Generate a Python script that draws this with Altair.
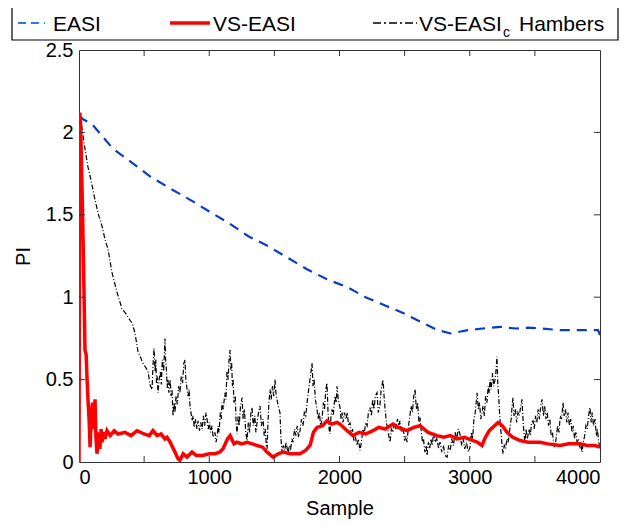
import altair as alt
import pandas as pd

# ---------------- data ----------------
easi_x = [0, 31, 100, 262, 400, 550, 700, 877, 1000, 1150, 1300, 1450, 1600, 1750, 1900, 2062,
          2200, 2350, 2500, 2650, 2754, 2854, 2985, 3100, 3238, 3350, 3446, 3550, 3700, 3850, 3985, 4000]
easi_y = [2.10, 2.08, 2.05, 1.90, 1.82, 1.73, 1.66, 1.58, 1.52, 1.45, 1.37, 1.31, 1.24, 1.17, 1.11, 1.06,
          1.00, 0.95, 0.90, 0.84, 0.80, 0.78, 0.80, 0.81, 0.82, 0.81, 0.815, 0.81, 0.80, 0.80, 0.80, 0.77]

vs_x = [0, 6, 12, 25, 35, 46, 55, 62, 69, 78, 85, 95, 105, 115, 123, 130, 138, 150, 160, 170, 177,
        190, 200, 215, 240, 270, 300, 353, 400, 445, 500, 540, 568, 600, 630, 660, 676, 700, 737, 760,
        775, 800, 830, 868, 900, 950, 1000, 1044, 1080, 1106, 1140, 1160, 1190, 1213, 1250, 1290, 1330,
        1367, 1410, 1444, 1490, 1530, 1566, 1620, 1697, 1740, 1774, 1800, 1827, 1870, 1904, 1940, 1981,
        2004, 2058, 2104, 2150, 2200, 2257, 2300, 2350, 2411, 2450, 2518, 2570, 2618, 2680, 2749, 2800,
        2850, 2902, 2960, 3025, 3060, 3094, 3120, 3150, 3217, 3250, 3286, 3330, 3386, 3450, 3539, 3600,
        3693, 3760, 3846, 3900, 3960, 4000]
vs_y = [0.0, 2.12, 2.05, 1.60, 1.20, 0.68, 0.65, 0.50, 0.38, 0.25, 0.09, 0.30, 0.36, 0.20, 0.38, 0.15,
        0.05, 0.18, 0.08, 0.20, 0.12, 0.18, 0.14, 0.19, 0.16, 0.19, 0.17, 0.18, 0.16, 0.19, 0.17, 0.16,
        0.19, 0.16, 0.17, 0.14, 0.15, 0.12, 0.06, 0.02, 0.01, 0.05, 0.03, 0.06, 0.04, 0.04, 0.05, 0.05,
        0.06, 0.08, 0.14, 0.16, 0.11, 0.12, 0.11, 0.12, 0.11, 0.10, 0.09, 0.06, 0.03, 0.05, 0.06, 0.05,
        0.05, 0.07, 0.10, 0.18, 0.21, 0.22, 0.25, 0.23, 0.24, 0.23, 0.19, 0.16, 0.18, 0.17, 0.19, 0.21,
        0.20, 0.23, 0.21, 0.19, 0.21, 0.22, 0.18, 0.16, 0.15, 0.16, 0.14, 0.15, 0.13, 0.12, 0.10, 0.15,
        0.19, 0.24, 0.22, 0.18, 0.15, 0.13, 0.12, 0.12, 0.11, 0.10, 0.11, 0.11, 0.10, 0.10, 0.09]

# VS-EASI_c Hambers: (sample, PI) pairs
ham_points = [
    (0, 2.10), (15, 2.07), (40, 1.93), (69, 1.79), (100, 1.68), (123, 1.59), (150, 1.50), (177, 1.43),
    (200, 1.35), (223, 1.29), (253, 1.15), (292, 1.03), (330, 0.93), (360, 0.90), (392, 0.86), (410, 0.84),
    (430, 0.78), (453, 0.67), (470, 0.64), (490, 0.60), (507, 0.58), (530, 0.55), (545, 0.47),
    (561, 0.44), (568, 0.58), (576, 0.69), (584, 0.55), (590, 0.62), (595, 0.48), (600, 0.52), (607, 0.42),
    (615, 0.50), (625, 0.55), (632, 0.47), (640, 0.62), (650, 0.55), (660, 0.75), (665, 0.62), (670, 0.58),
    (677, 0.45), (683, 0.50), (690, 0.42), (700, 0.50), (707, 0.40), (714, 0.44), (722, 0.28), (730, 0.36),
    (737, 0.30), (745, 0.40), (755, 0.35), (765, 0.46), (775, 0.42), (785, 0.52), (795, 0.48), (805, 0.60),
    (814, 0.62), (820, 0.50), (830, 0.44), (837, 0.40), (845, 0.44), (852, 0.34), (860, 0.30), (868, 0.25),
    (876, 0.28), (885, 0.21), (895, 0.26), (905, 0.20), (914, 0.25), (925, 0.19), (935, 0.24), (945, 0.20),
    (955, 0.28), (965, 0.22), (975, 0.30), (983, 0.26), (992, 0.20), (1000, 0.24), (1010, 0.18), (1021, 0.22),
    (1030, 0.15), (1044, 0.18), (1052, 0.12), (1060, 0.15), (1068, 0.22), (1075, 0.18), (1085, 0.30),
    (1092, 0.26), (1098, 0.36), (1108, 0.32), (1120, 0.42), (1128, 0.38), (1136, 0.55), (1145, 0.50),
    (1152, 0.62), (1160, 0.68), (1166, 0.56), (1172, 0.60), (1178, 0.46), (1183, 0.50), (1190, 0.36),
    (1200, 0.40), (1206, 0.24), (1213, 0.17), (1222, 0.28), (1230, 0.22), (1240, 0.34), (1252, 0.39),
    (1260, 0.26), (1270, 0.32), (1280, 0.18), (1290, 0.13), (1300, 0.24), (1310, 0.18), (1320, 0.30),
    (1328, 0.33), (1338, 0.22), (1350, 0.28), (1358, 0.18), (1367, 0.24), (1378, 0.30), (1390, 0.34),
    (1400, 0.22), (1413, 0.26), (1422, 0.16), (1430, 0.20), (1438, 0.10), (1444, 0.08), (1450, 0.22),
    (1458, 0.36), (1467, 0.44), (1475, 0.38), (1485, 0.46), (1495, 0.40), (1505, 0.50), (1512, 0.42),
    (1520, 0.38), (1530, 0.34), (1543, 0.30), (1550, 0.15), (1559, 0.05), (1568, 0.10), (1580, 0.07),
    (1590, 0.12), (1605, 0.05), (1615, 0.10), (1625, 0.08), (1635, 0.14), (1643, 0.12), (1655, 0.20),
    (1665, 0.16), (1675, 0.22), (1686, 0.15), (1697, 0.19), (1708, 0.26), (1720, 0.22), (1730, 0.30),
    (1741, 0.28), (1751, 0.36), (1760, 0.42), (1770, 0.48), (1780, 0.54), (1789, 0.60), (1797, 0.46),
    (1805, 0.50), (1815, 0.38), (1827, 0.32), (1836, 0.26), (1845, 0.30), (1856, 0.22), (1866, 0.26),
    (1876, 0.36), (1885, 0.32), (1895, 0.44), (1904, 0.48), (1912, 0.30), (1920, 0.20), (1927, 0.17),
    (1935, 0.28), (1943, 0.32), (1952, 0.28), (1965, 0.40), (1975, 0.36), (1981, 0.46), (1990, 0.38),
    (2004, 0.33), (2012, 0.26), (2020, 0.30), (2027, 0.24), (2038, 0.30), (2050, 0.26), (2060, 0.30),
    (2070, 0.22), (2081, 0.24), (2090, 0.16), (2100, 0.20), (2110, 0.13), (2120, 0.16), (2134, 0.10),
    (2145, 0.14), (2157, 0.07), (2168, 0.12), (2180, 0.20), (2190, 0.16), (2200, 0.24), (2212, 0.22),
    (2222, 0.30), (2234, 0.33), (2245, 0.28), (2255, 0.38), (2265, 0.32), (2275, 0.40), (2288, 0.42),
    (2298, 0.30), (2310, 0.34), (2320, 0.44), (2334, 0.50), (2342, 0.40), (2350, 0.32), (2360, 0.24),
    (2370, 0.20), (2380, 0.15), (2388, 0.12), (2398, 0.20), (2410, 0.18), (2420, 0.24), (2432, 0.20),
    (2445, 0.26), (2455, 0.22), (2464, 0.25), (2475, 0.18), (2490, 0.20), (2500, 0.13), (2510, 0.16),
    (2518, 0.12), (2530, 0.22), (2540, 0.28), (2550, 0.34), (2560, 0.30), (2570, 0.40), (2580, 0.44),
    (2590, 0.32), (2600, 0.36), (2610, 0.24), (2618, 0.27), (2628, 0.18), (2638, 0.12), (2645, 0.14),
    (2655, 0.06), (2665, 0.10), (2672, 0.04), (2682, 0.12), (2692, 0.08), (2702, 0.14), (2712, 0.10),
    (2722, 0.18), (2735, 0.12), (2749, 0.15), (2760, 0.08), (2772, 0.12), (2785, 0.06), (2798, 0.10),
    (2810, 0.04), (2826, 0.03), (2838, 0.10), (2850, 0.07), (2862, 0.14), (2875, 0.10), (2888, 0.18),
    (2900, 0.14), (2912, 0.20), (2925, 0.17), (2938, 0.10), (2950, 0.14), (2962, 0.08), (2975, 0.12),
    (2988, 0.06), (3002, 0.09), (3012, 0.18), (3022, 0.14), (3032, 0.26), (3042, 0.30), (3056, 0.42),
    (3066, 0.32), (3075, 0.36), (3085, 0.26), (3094, 0.30), (3102, 0.34), (3112, 0.28), (3122, 0.40),
    (3132, 0.36), (3142, 0.46), (3150, 0.42), (3156, 0.50), (3165, 0.44), (3175, 0.54), (3185, 0.46),
    (3194, 0.50), (3202, 0.56), (3209, 0.64), (3215, 0.48), (3222, 0.40), (3230, 0.28), (3240, 0.18),
    (3248, 0.10), (3255, 0.05), (3265, 0.10), (3275, 0.08), (3285, 0.14), (3295, 0.12), (3309, 0.21),
    (3318, 0.26), (3325, 0.34), (3332, 0.39), (3340, 0.28), (3350, 0.32), (3360, 0.24), (3370, 0.30),
    (3380, 0.28), (3392, 0.34), (3401, 0.38), (3410, 0.24), (3418, 0.16), (3424, 0.12), (3432, 0.20),
    (3442, 0.14), (3455, 0.20), (3465, 0.16), (3475, 0.24), (3486, 0.25), (3495, 0.20), (3505, 0.28),
    (3515, 0.24), (3525, 0.32), (3535, 0.26), (3545, 0.34), (3555, 0.38), (3565, 0.28), (3575, 0.34),
    (3585, 0.26), (3595, 0.30), (3605, 0.22), (3615, 0.26), (3625, 0.16), (3635, 0.18), (3645, 0.10),
    (3655, 0.09), (3665, 0.16), (3675, 0.22), (3685, 0.18), (3695, 0.28), (3705, 0.26), (3716, 0.36),
    (3725, 0.28), (3735, 0.32), (3745, 0.24), (3755, 0.30), (3765, 0.22), (3775, 0.26), (3785, 0.18),
    (3795, 0.22), (3805, 0.14), (3815, 0.18), (3824, 0.12), (3835, 0.14), (3845, 0.08), (3855, 0.10),
    (3862, 0.06), (3872, 0.12), (3882, 0.16), (3892, 0.22), (3902, 0.20), (3912, 0.28), (3923, 0.33),
    (3932, 0.24), (3940, 0.30), (3950, 0.22), (3962, 0.26), (3972, 0.16), (3980, 0.20), (3990, 0.12),
    (4000, 0.09),
]

x_ticks = [0, 500, 1000, 1500, 2000, 2500, 3000, 3500, 4000]
y_ticks = [0, 0.5, 1, 1.5, 2, 2.5]
legend_labels = ["EASI", "VS-EASI", "VS-EASI", "c", "Hambers"]

W, H = 521, 412
FONT = "Liberation Sans"

easi_df = pd.DataFrame({"x": easi_x, "y": easi_y})
vs_df = pd.DataFrame({"x": vs_x, "y": vs_y})
ham_df = pd.DataFrame(ham_points, columns=["x", "y"])

xs = alt.Scale(domain=[0, 4000], nice=False, zero=False)
ys = alt.Scale(domain=[0, 2.5], nice=False, zero=False)

x_enc = alt.X("x:Q", scale=xs,
              axis=alt.Axis(title="Sample", values=x_ticks,
                            labelExpr="datum.value % 1000 == 0 ? datum.label : ''",
                            format="d", grid=False, ticks=False, domain=False,
                            labelPadding=5, titlePadding=11))
y_enc = alt.Y("y:Q", scale=ys,
              axis=alt.Axis(title="PI", values=y_ticks, format="~g", grid=False, ticks=False,
                            domain=False, labelPadding=6, titlePadding=12))

ham = alt.Chart(ham_df).mark_line(color="#000000", strokeWidth=1.2,
                                  strokeDash=[5, 2, 1, 2], clip=True).encode(x=x_enc, y=y_enc, order="x:Q")
easi = alt.Chart(easi_df).mark_line(color="#0a3cc8", strokeWidth=2.2,
                                    strokeDash=[10, 7], clip=True).encode(x="x:Q", y="y:Q", order="x:Q")
vs = alt.Chart(vs_df).mark_line(color="#ff0000", strokeWidth=3.5, clip=True).encode(
    x="x:Q", y="y:Q", order="x:Q")

# inward ticks
xt_df = pd.DataFrame({"x": x_ticks[1:-1]})
yt_df = pd.DataFrame({"y": y_ticks[1:-1]})
tick_style = dict(color="#333333", strokeWidth=1)
xt_bot = alt.Chart(xt_df).mark_rule(**tick_style).encode(x="x:Q", y=alt.value(H), y2=alt.value(H - 6))
xt_top = alt.Chart(xt_df).mark_rule(**tick_style).encode(x="x:Q", y=alt.value(0), y2=alt.value(6))
yt_l = alt.Chart(yt_df).mark_rule(**tick_style).encode(y="y:Q", x=alt.value(0), x2=alt.value(6))
yt_r = alt.Chart(yt_df).mark_rule(**tick_style).encode(y="y:Q", x=alt.value(W), x2=alt.value(W - 6))

# legend (drawn above the plot)
one = pd.DataFrame({"a": [0]})
lg_box = alt.Chart(one).mark_rect(fill="white", stroke="#000000", strokeWidth=1.2).encode(
    x=alt.value(-67), x2=alt.value(539), y=alt.value(-45), y2=alt.value(-10))
lg_easi = alt.Chart(one).mark_rule(color="#2a78e0", strokeWidth=2, strokeDash=[8, 5]).encode(
    x=alt.value(-61), x2=alt.value(-34), y=alt.value(-27))
lg_vs = alt.Chart(one).mark_rule(color="#ff0000", strokeWidth=3.5).encode(
    x=alt.value(91), x2=alt.value(131), y=alt.value(-27))
lg_ham = alt.Chart(one).mark_rule(color="#000000", strokeWidth=1.3, strokeDash=[8, 3, 2, 3]).encode(
    x=alt.value(294), x2=alt.value(338), y=alt.value(-27))

def lg_text(txt, x, y, size=21):
    return alt.Chart(one).mark_text(text=txt, align="left", baseline="alphabetic", font=FONT,
                                    fontSize=size, color="#000000").encode(x=alt.value(x), y=alt.value(y))

lg_t1 = lg_text(legend_labels[0], -26, -19)
lg_t2 = lg_text(legend_labels[1], 134, -19)
lg_t3 = lg_text(legend_labels[2], 340, -19)
lg_t4 = lg_text(legend_labels[3], 424, -13, 14)
lg_t5 = lg_text(legend_labels[4], 440, -19)

chart = alt.layer(
    ham, easi, vs, xt_bot, xt_top, yt_l, yt_r,
    lg_box, lg_easi, lg_vs, lg_ham, lg_t1, lg_t2, lg_t3, lg_t4, lg_t5,
).properties(
    width=W, height=H,
    autosize=alt.AutoSizeParams(type="none"),
    padding={"left": 71, "top": 42, "right": 20, "bottom": 64},
    background="white",
).configure_view(
    stroke="#333333", strokeWidth=1
).configure_axis(
    labelFont=FONT, titleFont=FONT, labelFontSize=20, titleFontSize=20,
    labelColor="#000000", titleColor="#000000", titleFontWeight="normal"
)

chart.save("out.html", embed_options={"renderer": "svg", "actions": False})
